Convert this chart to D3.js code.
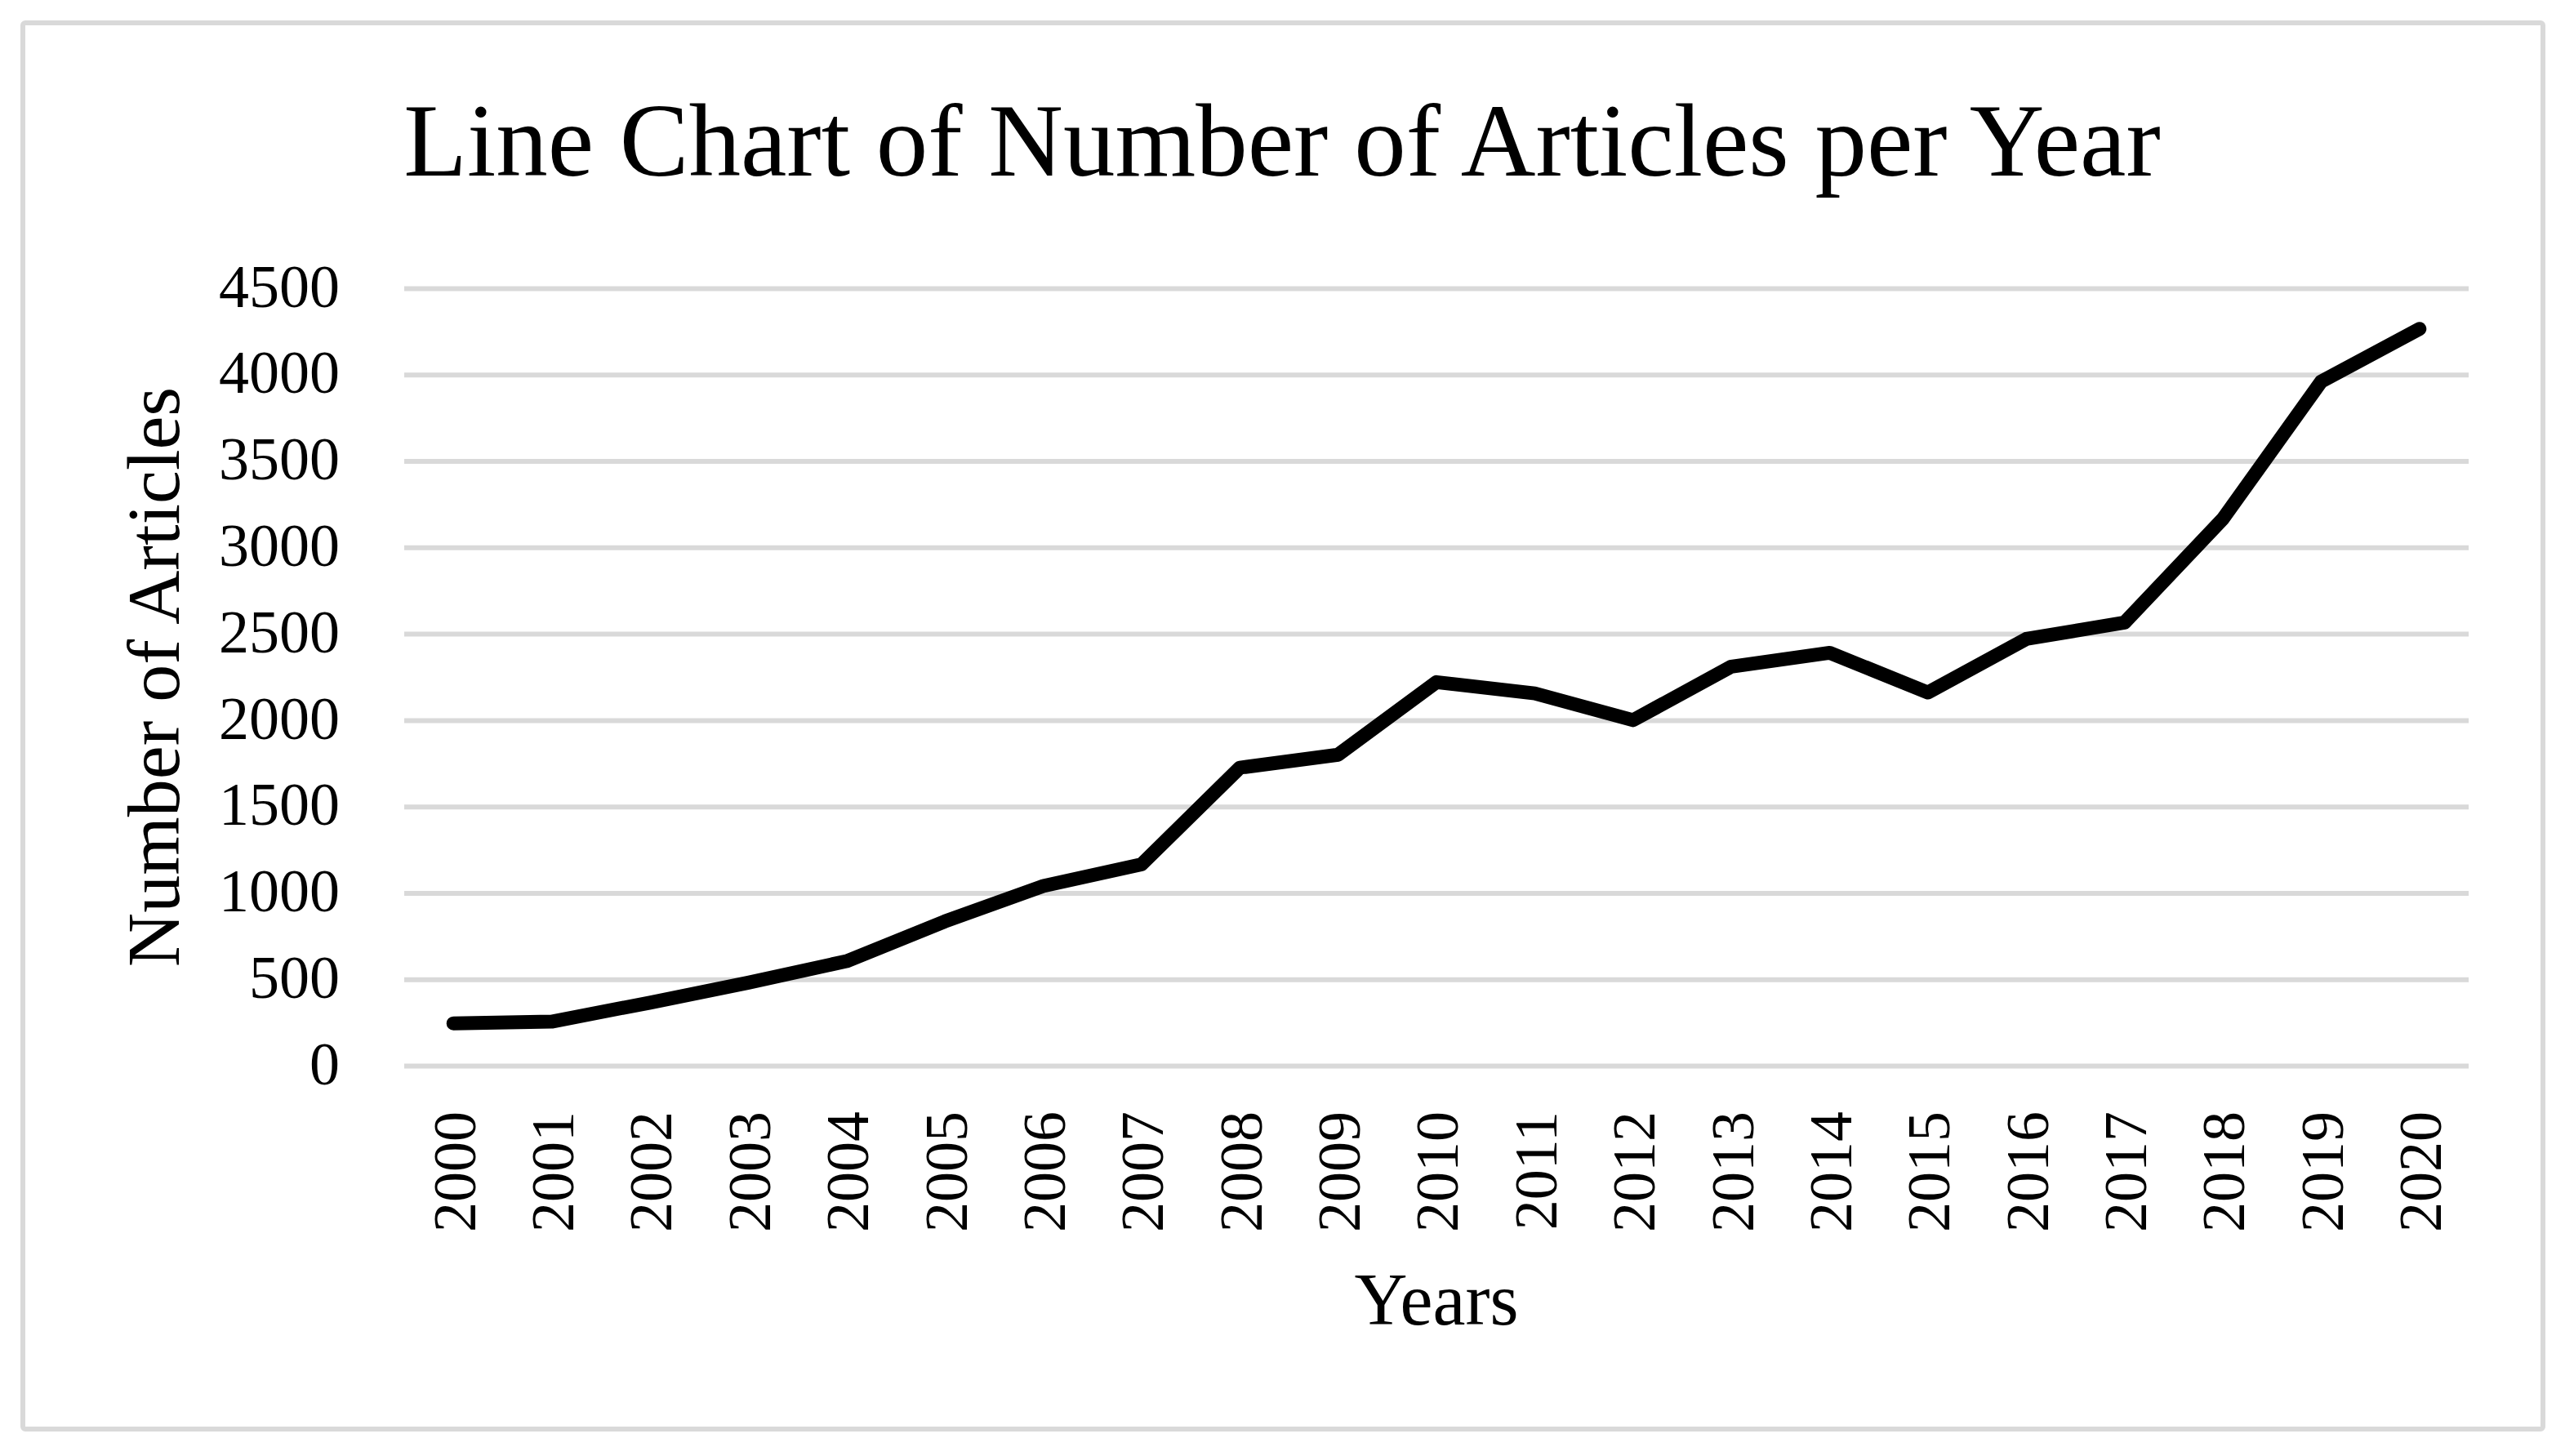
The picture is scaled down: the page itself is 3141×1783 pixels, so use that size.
<!DOCTYPE html>
<html>
<head>
<meta charset="utf-8">
<script src="https://cdn.jsdelivr.net/npm/d3@7"></script>
<style>
  body { margin: 0; background: #fff; }
  text { font-family: "Liberation Serif", "Times New Roman", serif; fill: #000; }
</style>
</head>
<body>
<div id="chart"></div>
<script>
// data
const years = ['2000', '2001', '2002', '2003', '2004', '2005', '2006', '2007', '2008', '2009', '2010',
  '2011', '2012', '2013', '2014', '2015', '2016', '2017', '2018', '2019', '2020']
const articles = [245, 255, 365, 480, 605, 835, 1040, 1165, 1725, 1800, 2220,
  2155, 2000, 2310, 2390, 2160, 2470, 2565, 3165, 3960, 4265]
const yTicks = [0, 500, 1000, 1500, 2000, 2500, 3000, 3500, 4000, 4500]

const title = 'Line Chart of Number of Articles per Year'
const xTitle = 'Years'
const yTitle = 'Number of Articles'

// page
const width = 3141
const height = 1783
const margin = {top: 353, right: 118, bottom: 478, left: 495}

const svg = d3.select('#chart').append('svg')
  .attr('width', width)
  .attr('height', height)

// outer frame
svg.append('rect')
  .attr('x', 28)
  .attr('y', 28)
  .attr('width', 3086)
  .attr('height', 1722)
  .attr('rx', 3)
  .attr('fill', '#fff')
  .attr('stroke', '#d9d9d9')
  .attr('stroke-width', 6)

// scales
const x = d3.scalePoint()
  .domain(years)
  .range([margin.left, width - margin.right])
  .padding(0.5)

const y = d3.scaleLinear()
  .domain([0, 4500])
  .range([height - margin.bottom, margin.top])

// gridlines
svg.append('g')
  .attr('transform', `translate(${margin.left},0)`)
  .call(d3.axisLeft(y).tickValues(yTicks).tickSize(-(width - margin.right - margin.left)).tickFormat(''))
  .call(g => g.select('.domain').remove())
  .call(g => g.selectAll('.tick line').attr('stroke', '#d9d9d9').attr('stroke-width', 6))

// y tick labels
svg.append('g')
  .attr('transform', `translate(${margin.left},0)`)
  .call(d3.axisLeft(y).tickValues(yTicks).tickFormat(d3.format('d')).tickSize(0).tickPadding(79))
  .call(g => g.select('.domain').remove())
  .call(g => g.selectAll('.tick text')
    .attr('font-family', '"Liberation Serif", serif')
    .attr('font-size', 74)
    .attr('dy', '0.3em')
    .attr('fill', '#000'))

// x tick labels, rotated
svg.append('g')
  .attr('transform', `translate(0,${height - margin.bottom})`)
  .call(d3.axisBottom(x).tickSize(0).tickPadding(0))
  .call(g => g.select('.domain').remove())
  .call(g => g.selectAll('.tick text')
    .attr('font-family', '"Liberation Serif", serif')
    .attr('font-size', 74)
    .attr('fill', '#000')
    .attr('text-anchor', 'end')
    .attr('transform', 'translate(0,56) rotate(-90)')
    .attr('x', 0)
    .attr('y', 0)
    .attr('dy', '0.35em'))

// the line
const line = d3.line()
  .x((d, i) => x(years[i]))
  .y(d => y(d))

svg.append('path')
  .datum(articles)
  .attr('d', line)
  .attr('fill', 'none')
  .attr('stroke', '#000')
  .attr('stroke-width', 17)
  .attr('stroke-linecap', 'round')
  .attr('stroke-linejoin', 'round')

// titles
svg.append('text')
  .attr('x', 1570)
  .attr('y', 215)
  .attr('text-anchor', 'middle')
  .attr('font-size', 127)
  .text(title)

svg.append('text')
  .attr('x', (margin.left + width - margin.right) / 2)
  .attr('y', 1622)
  .attr('text-anchor', 'middle')
  .attr('font-size', 90)
  .text(xTitle)

svg.append('text')
  .attr('transform', `translate(219,${(y(0) + y(4500)) / 2}) rotate(-90)`)
  .attr('text-anchor', 'middle')
  .attr('font-size', 92)
  .text(yTitle)
</script>
</body>
</html>
